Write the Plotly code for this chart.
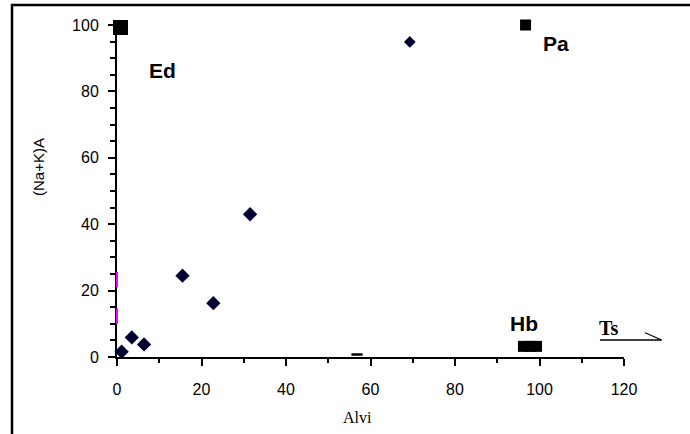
import plotly.graph_objects as go

# ---- data ----
diamond_x = [1.1, 3.5, 6.4, 15.5, 22.8, 31.5]
diamond_y = [1.6, 5.9, 3.8, 24.5, 16.2, 43.0]
diamond2_x = [69.3]
diamond2_y = [94.9]

ed_x = [0.83, 0.83]
ed_y = [100.75, 99.25]
pa_x = [96.7]
pa_y = [100.0]
hb_x = [96.2, 97.8, 99.3]
hb_y = [3.2, 3.2, 3.2]
dash_x = [56.8]
dash_y = [0.75]
pink_y = [23.3, 12.3]
pink_x = [0, 0]

labels = ["Ed", "Pa", "Hb"]
label_x = [10.8, 103.9, 96.3]
label_y = [86.4, 94.3, 10.2]
ts_label = "Ts"
ts_x, ts_y = 116.4, 8.6
ts_line_x = [114.3, 128.9]
ts_line_y = [5.12, 5.12]
ts_barb_x = [125.0, 128.9]
ts_barb_y = [7.3, 5.12]

x_range = [0, 120]
y_range = [0, 100]
x_ticks = [0, 20, 40, 60, 80, 100, 120]
y_ticks = [0, 20, 40, 60, 80, 100]

W, H = 690, 434
L, R, T, B = 117, 66, 25, 77
PW, PH = W - L - R, H - T - B


def px(xp):
    return (xp - L) / PW


def py(yp):
    return (H - B - yp) / PH


def dx(v):
    return (v - x_range[0]) / (x_range[1] - x_range[0])


def dy(v):
    return (v - y_range[0]) / (y_range[1] - y_range[0])


fig = go.Figure()
fig.add_trace(go.Scatter(x=pink_x, y=pink_y, mode="markers", cliponaxis=False,
                         marker=dict(symbol="line-ns", size=11, line=dict(color="#ff00ff", width=2))))
fig.add_trace(go.Scatter(x=dash_x, y=dash_y, mode="markers", cliponaxis=False,
                         marker=dict(symbol="line-ew", size=8, line=dict(color="black", width=2.5))))
fig.add_trace(go.Scatter(x=diamond_x, y=diamond_y, mode="markers", cliponaxis=False,
                         marker=dict(symbol="diamond", size=11, color="#000033")))
fig.add_trace(go.Scatter(x=diamond2_x, y=diamond2_y, mode="markers", cliponaxis=False,
                         marker=dict(symbol="diamond", size=9, color="#000033")))
fig.add_trace(go.Scatter(x=ed_x, y=ed_y, mode="markers", cliponaxis=False,
                         marker=dict(symbol="square", size=15, color="black")))
fig.add_trace(go.Scatter(x=pa_x, y=pa_y, mode="markers", cliponaxis=False,
                         marker=dict(symbol="square", size=11, color="black")))
fig.add_trace(go.Scatter(x=hb_x, y=hb_y, mode="markers", cliponaxis=False,
                         marker=dict(symbol="square", size=11, color="black")))

annotations = []
for t, x, y in zip(labels, label_x, label_y):
    annotations.append(dict(text="<b>" + t + "</b>", x=x, y=y, xref="x", yref="y", showarrow=False,
                            font=dict(family="Liberation Sans", size=21, color="black"),
                            xanchor="center", yanchor="middle"))
annotations.append(dict(text="<b>" + ts_label + "</b>", x=ts_x, y=ts_y, xref="x", yref="y",
                        showarrow=False, font=dict(family="Liberation Serif", size=20, color="black"),
                        xanchor="center", yanchor="middle"))
annotations.append(dict(text="Alvi", x=px(357), y=py(417), xref="paper", yref="paper",
                        showarrow=False, xanchor="center", yanchor="middle",
                        font=dict(family="Liberation Serif", size=16, color="black")))
annotations.append(dict(text="(Na+K)A", x=px(38), y=py(167), xref="paper", yref="paper",
                        showarrow=False, xanchor="center", yanchor="middle", textangle=-90,
                        font=dict(family="Liberation Sans", size=15, color="black")))

shapes = [
    dict(type="line", xref="paper", yref="paper", x0=px(12), x1=px(12), y0=py(4), y1=py(H + 2),
         line=dict(color="black", width=2.5)),
    dict(type="line", xref="paper", yref="paper", x0=px(11), x1=px(W + 2), y0=py(5), y1=py(5),
         line=dict(color="black", width=2.5)),
]
for lx, ly in [(ts_line_x, ts_line_y), (ts_barb_x, ts_barb_y)]:
    shapes.append(dict(type="line", xref="paper", yref="paper",
                       x0=dx(lx[0]), x1=dx(lx[1]), y0=dy(ly[0]), y1=dy(ly[1]),
                       line=dict(color="black", width=1.3)))

axis_common = dict(showline=True, linecolor="black", linewidth=2, ticks="outside", ticklen=7,
                   tickwidth=1.5, tickcolor="black", showgrid=False, zeroline=False,
                   layer="below traces",
                   tickfont=dict(family="Liberation Sans", size=16, color="black"))

fig.update_layout(
    width=W, height=H, margin=dict(l=L, r=R, t=T, b=B),
    paper_bgcolor="white", plot_bgcolor="white", showlegend=False,
    xaxis=dict(range=x_range, tickvals=x_ticks, ticklabelstandoff=10,
               minor=dict(dtick=10, ticks="outside", ticklen=4, tickwidth=1.5, tickcolor="black"),
               **axis_common),
    yaxis=dict(range=y_range, tickvals=y_ticks, ticklabelstandoff=6,
               minor=dict(dtick=5, ticks="outside", ticklen=5, tickwidth=1.5, tickcolor="black"),
               **axis_common),
    annotations=annotations, shapes=shapes,
)

fig.write_html("out.html", config={"displayModeBar": False},
               post_script="document.body.style.margin='0px';")
